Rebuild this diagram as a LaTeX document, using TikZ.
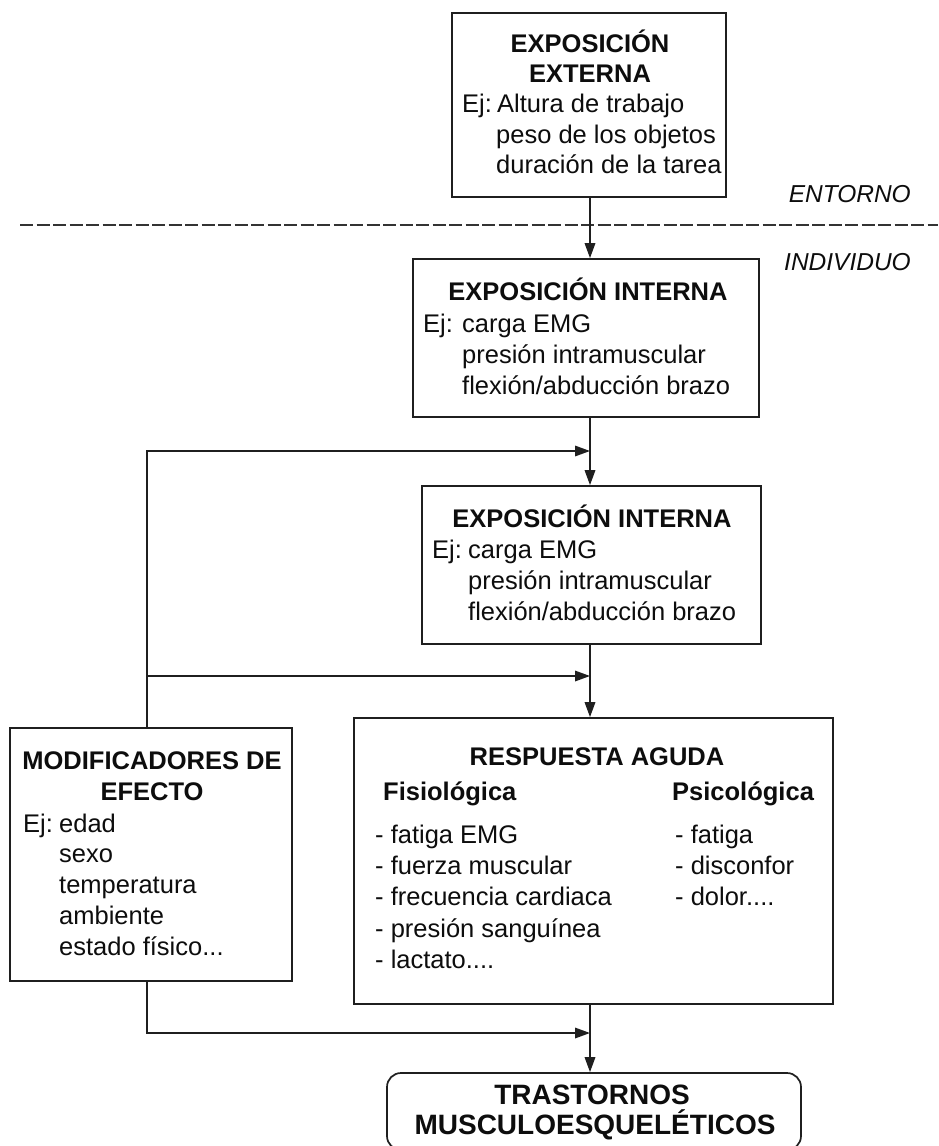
\documentclass[tikz,border=0pt]{standalone}
\usepackage{fontspec}
\setmainfont{Liberation Sans}
\usetikzlibrary{arrows.meta}
\tikzset{
  bx/.style={draw=black!88, line width=1.7pt, inner sep=0pt},
  ln/.style={draw=black!88, line width=1.7pt},
  arr/.style={ln, -{Triangle[length=15pt,width=10.5pt]}},
  tx/.style={inner sep=0pt, anchor=base west, font=\fontsize{25.5}{31}\selectfont, text=black!95},
  hd/.style={inner sep=0pt, anchor=base, font=\fontsize{25.5}{31}\selectfont\bfseries, text=black!95},
  hdl/.style={hd, anchor=base west},
  big/.style={inner sep=0pt, anchor=base, font=\fontsize{28}{31}\selectfont\bfseries, text=black!95},
  side/.style={inner sep=0pt, anchor=base east, font=\fontsize{24.5}{28}\selectfont\itshape, text=black!95},
  sep/.style={draw=black!80, line width=2.2pt, dash pattern=on 13pt off 3.5pt},
}
\begin{document}
\begin{tikzpicture}[x=1pt,y=-1pt]
\clip (0,0) rectangle (938,1146);
\fill[white] (0,0) rectangle (938,1146);

% boxes
\node[bx, minimum width=274pt, minimum height=184pt] (ext) at (589,105) {};
\node[bx, minimum width=346pt, minimum height=158pt] (int1) at (586,338) {};
\node[bx, minimum width=339pt, minimum height=158pt] (int2) at (591.5,565) {};
\node[bx, minimum width=282pt, minimum height=253pt] (mod) at (151,854.5) {};
\node[bx, minimum width=479pt, minimum height=286pt] (resp) at (593.5,861) {};
\node[bx, rounded corners=14pt, minimum width=414pt, minimum height=77pt] (tras) at (594,1111.5) {};

% separator
\draw[sep] (20,225) -- (938,225);
\node[side] (entorno) at (911,202) {ENTORNO};
\node[side] (individuo) at (911,270) {INDIVIDUO};

% texts: external exposure
\node[hd] (extA) at (590,52) {EXPOSICIÓN};
\node[hd] (extB) at (590,82) {EXTERNA};
\node[tx] (extC) at (462,112) {Ej:};
\node[tx] (extD) at (497,112) {Altura de trabajo};
\node[tx] (extE) at (496,143) {peso de los objetos};
\node[tx] (extF) at (496,173) {duración de la tarea};

% internal exposure 1
\node[hd] (iaA) at (588,300) {EXPOSICIÓN INTERNA};
\node[tx] (iaB) at (423,332) {Ej:};
\node[tx] (iaC) at (462,332) {carga EMG};
\node[tx] (iaD) at (462,363) {presión intramuscular};
\node[tx] (iaE) at (462,394) {flexión/abducción brazo};

% internal exposure 2
\node[hd] (ibA) at (592,527) {EXPOSICIÓN INTERNA};
\node[tx] (ibB) at (432,558) {Ej:};
\node[tx] (ibC) at (468,558) {carga EMG};
\node[tx] (ibD) at (468,589) {presión intramuscular};
\node[tx] (ibE) at (468,620) {flexión/abducción brazo};

% modifiers
\node[hd] (mA) at (152,769) {MODIFICADORES DE};
\node[hd] (mB) at (152,800) {EFECTO};
\node[tx] (mC) at (23,832) {Ej:};
\node[tx] (mD) at (59,832) {edad};
\node[tx] (mE) at (59,862) {sexo};
\node[tx] (mF) at (59,893) {temperatura};
\node[tx] (mG) at (59,924) {ambiente};
\node[tx] (mH) at (59,955) {estado físico...};

% acute response
\node[hd] (rA) at (597,765) {RESPUESTA AGUDA};
\node[hdl] (rB) at (383,800) {Fisiológica};
\node[hdl] (rC) at (672,800) {Psicológica};
\node[tx] (rD) at (375,843) {- fatiga EMG};
\node[tx] (rE) at (375,874) {- fuerza muscular};
\node[tx] (rF) at (375,905) {- frecuencia cardiaca};
\node[tx] (rG) at (375,937) {- presión sanguínea};
\node[tx] (rH) at (375,968) {- lactato....};
\node[tx] (rI) at (675,843) {- fatiga};
\node[tx] (rJ) at (675,874) {- disconfor};
\node[tx] (rK) at (675,905) {- dolor....};

% disorders
\node[big] (tA) at (592,1104) {TRASTORNOS};
\node[big] (tB) at (595,1134) {MUSCULOESQUELÉTICOS};

% connector geometry
\coordinate (ax) at (590,0);
\coordinate (mx) at (147,0);
\coordinate (j1) at (590,451);
\coordinate (j2) at (590,676);
\coordinate (j3) at (590,1033);

% vertical flow
\draw[arr] (ext.south -| ax) -- (int1.north -| ax);
\draw[arr] (int1.south -| ax) -- (int2.north -| ax);
\draw[arr] (int2.south -| ax) -- (resp.north -| ax);
\draw[arr] (resp.south -| ax) -- (tras.north -| ax);

% modifiers feedback
\draw[arr] (mod.north -| mx) |- (j1);
\draw[arr] (j2 -| mx) -- (j2);
\draw[arr] (mod.south -| mx) |- (j3);
\end{tikzpicture}
\end{document}
